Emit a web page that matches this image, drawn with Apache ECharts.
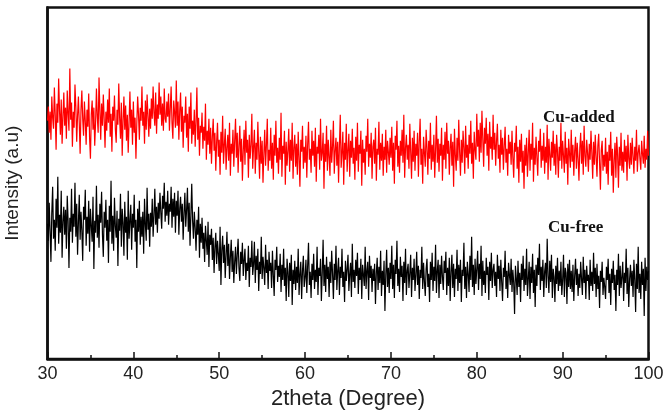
<!DOCTYPE html>
<html>
<head>
<meta charset="utf-8">
<script src="https://cdn.jsdelivr.net/npm/echarts@6/dist/echarts.min.js"></script>
<style>html,body{margin:0;padding:0;background:#fff}#c{width:665px;height:412px}</style>
</head>
<body>
<div id="c"></div>
<script>
// 2theta sampling: starts at 30, one reading every 0.1 degree up to 100
const thetaStart = 30;
const thetaStep = 0.1;
const xTicks = [30, 40, 50, 60, 70, 80, 90, 100];
const seriesNames = ['Cu-added', 'Cu-free'];

// Intensity (a.u.) (one row = one degree)
const cuAdded = [
238,252,226,247,219,262,241,230,271,244,
209,255,236,280,248,224,259,215,242,266,
233,251,220,268,245,228,290,239,256,212,
247,231,274,252,217,243,262,236,205,249,
268,240,223,257,238,214,249,232,265,221,
200,244,258,229,251,213,236,270,242,226,
281,248,219,255,233,264,240,211,247,228,
259,236,270,222,245,207,252,238,263,230,
216,249,234,275,241,220,256,203,238,262,
229,253,218,244,206,236,267,231,249,214,
257,226,241,200,235,262,244,219,251,238,
272,233,247,215,258,229,264,243,222,250,
230,260,240,272,246,233,266,225,254,240,
276,244,262,233,255,228,270,240,236,257,
242,265,228,250,272,236,220,258,246,231,
278,233,257,219,248,266,227,252,211,243,
236,262,221,245,207,252,230,266,215,238,
224,249,212,237,271,219,241,203,233,226,
246,210,232,218,255,199,228,214,240,205,
231,195,222,240,208,226,188,217,236,202,
219,184,227,206,243,195,214,230,189,211,
224,198,236,183,215,205,229,192,218,240,
201,226,186,213,233,197,220,178,208,229,
194,238,206,219,181,224,200,214,245,190,
212,229,185,216,199,237,207,180,222,195,
218,176,205,229,193,214,240,188,209,198,
231,190,216,179,224,203,238,196,211,185,
221,199,246,182,213,205,228,174,217,193,
208,230,187,219,198,236,180,211,224,192,
215,184,227,201,172,219,207,233,190,212,
196,223,181,214,237,199,210,186,228,203,
218,192,231,177,212,205,224,189,240,198,
206,226,170,215,197,233,188,219,202,183,
229,196,212,238,185,208,221,193,217,176,
213,244,191,206,227,174,216,199,235,187,
209,225,182,218,201,230,195,211,179,222,
198,236,187,214,205,228,173,219,196,210,
184,223,207,240,192,215,201,226,180,212,
219,195,231,178,210,204,237,189,216,198,
225,183,212,199,229,186,218,207,194,221,
201,232,188,216,175,223,209,238,192,213,
186,218,203,229,196,244,181,211,224,199,
214,190,235,207,180,221,197,228,188,215,
203,226,182,217,240,194,210,175,222,206,
192,229,211,184,218,200,236,189,214,197,
224,181,209,243,196,220,187,215,203,231,
178,214,199,227,190,236,205,218,184,211,
225,193,217,172,230,204,188,221,198,239,
207,183,219,196,228,211,185,233,201,214,
190,224,205,238,195,216,180,227,209,199,
245,212,229,197,236,206,248,219,192,231,
215,241,203,225,188,237,210,222,199,244,
209,226,193,218,235,200,214,186,229,204,
221,189,213,232,196,210,183,224,205,217,
194,228,201,181,216,207,233,190,212,176,
219,197,225,186,208,170,214,193,221,182,
206,229,188,215,199,236,177,211,194,222,
201,183,218,207,230,191,213,198,226,185,
212,196,234,179,220,204,188,217,201,228,
193,215,184,224,207,181,212,198,236,190,
218,203,186,227,195,211,174,220,205,191,
229,197,214,183,208,222,190,216,200,178,
211,226,195,218,184,233,203,192,219,206,
187,215,199,228,206,180,217,194,224,202,
182,213,225,196,169,209,218,188,204,192,
221,185,207,174,214,198,227,183,210,166,
199,216,181,222,204,171,212,193,226,188,
207,186,219,197,213,178,224,200,190,216,
194,221,203,185,212,198,229,187,206,214,
200,189,218,205,195,223,191,210,199,228,
203
];

const cuFree = [
135,118,156,128,97,146,172,120,139,108,
160,131,182,115,144,126,168,101,137,152,
124,149,110,163,138,91,141,127,170,116,
145,132,176,122,155,104,136,164,119,147,
128,98,152,139,169,113,142,125,158,107,
150,133,117,162,90,138,126,173,121,144,
111,155,136,167,124,102,147,131,159,118,
139,96,153,127,178,115,143,108,161,133,
121,148,93,140,128,165,112,150,136,103,
157,126,142,99,168,120,137,154,109,145,
131,164,117,139,91,150,127,158,114,142,
122,147,105,160,134,118,171,129,145,112,
146,132,160,122,143,170,134,152,126,156,
140,166,146,130,163,150,176,137,157,143,
168,134,155,147,172,131,160,142,166,126,
158,143,168,124,150,162,137,155,119,146,
166,132,149,171,127,156,113,144,175,138,
120,147,131,108,139,124,152,101,135,116,
141,110,126,97,133,118,104,137,92,124,
114,130,99,121,86,112,126,95,118,105,
88,132,74,109,123,96,114,81,104,127,
93,115,80,102,119,87,108,76,97,112,
85,104,120,91,78,107,95,116,83,99,
110,79,96,88,113,72,101,92,118,84,
95,117,76,103,89,110,68,97,85,122,
80,102,91,74,114,86,99,70,107,88,
96,71,108,84,63,99,89,112,77,93,
82,105,67,94,79,110,73,91,58,100,
87,62,96,78,104,54,89,75,98,69,
92,76,110,64,85,97,60,88,103,72,
81,99,66,93,116,74,87,61,95,79,
105,70,89,77,112,64,91,83,100,58,
86,119,73,94,67,102,80,92,62,97,
76,108,85,60,95,79,113,69,88,101,
64,92,81,110,72,87,57,98,78,90,
104,68,85,96,62,115,77,89,71,99,
83,106,65,91,79,100,60,94,84,73,
112,70,88,97,59,103,81,93,67,90,
78,95,55,86,101,69,92,76,108,63,
88,74,98,48,84,109,72,91,66,96,
80,113,70,94,61,99,85,118,73,90,
67,102,82,93,58,97,76,110,64,88,
95,71,86,104,62,91,79,100,68,84,
107,74,93,60,89,81,112,70,96,77,
63,90,100,72,85,57,97,79,106,68,
92,78,114,66,88,99,61,94,75,103,
82,69,98,86,107,64,91,73,101,58,
87,104,71,95,62,90,80,109,68,94,
76,99,57,89,83,116,70,92,61,97,
85,67,103,79,122,72,94,64,100,75,
90,108,69,95,80,113,63,98,74,88,
66,101,84,92,59,97,78,106,71,89,
95,73,87,62,104,80,93,68,99,77,
58,91,82,108,70,88,61,96,84,74,
100,67,89,76,45,93,81,64,98,72,
86,57,95,79,103,68,90,74,110,63,
80,97,60,92,76,105,66,89,52,94,
73,101,84,115,69,92,78,99,62,87,
96,71,120,83,66,98,77,104,61,90,
82,57,93,75,101,68,88,73,97,64,
79,104,62,91,86,55,95,72,99,70,
88,67,94,58,83,100,74,90,63,85,
71,97,80,64,102,76,89,60,93,78,
84,59,99,73,87,68,106,75,91,62,
95,70,83,51,88,77,97,64,81,72,
60,92,79,100,66,85,54,90,76,98,
69,84,48,89,74,105,63,93,71,82,
97,58,86,76,110,65,91,52,80,94,
73,88,62,99,79,47,95,70,112,66,
85,60,97,74,90,43,101,68,92,79,
88
];

function pairs(vals) {
  return vals.map((v, i) => [+(thetaStart + i * thetaStep).toFixed(1), v]);
}

const chart = echarts.init(document.getElementById('c'), null, {renderer: 'canvas'});
chart.setOption({
  animation: false,
  backgroundColor: '#fff',
  grid: {
    left: 47.5, right: 16.5, top: 7.5, bottom: 53,
    outerBoundsMode: 'none', containLabel: false,
    show: true, borderColor: '#111', borderWidth: 2.5, backgroundColor: 'transparent'
  },
  xAxis: {
    type: 'value',
    min: xTicks[0], max: xTicks[xTicks.length - 1], interval: 10,
    name: '2theta (Degree)', nameLocation: 'middle', nameGap: 29,
    nameTextStyle: {fontFamily: 'Liberation Sans', fontSize: 22, color: '#222'},
    axisLine: {show: true, onZero: false, lineStyle: {color: '#111', width: 2.5}},
    axisTick: {show: true, inside: true, length: 7, lineStyle: {color: '#111', width: 1.5}},
    minorTick: {show: true, splitNumber: 2, length: 4, lineStyle: {color: '#111', width: 1.5}},
    axisLabel: {fontFamily: 'Liberation Sans', fontSize: 18, color: '#222', margin: 6},
    splitLine: {show: false}
  },
  yAxis: {
    type: 'value', min: 0, max: 351,
    name: 'Intensity (a.u)', nameLocation: 'middle', nameGap: 25,
    nameTextStyle: {fontFamily: 'Liberation Sans', fontSize: 19, color: '#222'},
    axisLine: {show: true, lineStyle: {color: '#111', width: 2.5}},
    axisTick: {show: false}, axisLabel: {show: false}, splitLine: {show: false}
  },
  series: [
    {name: seriesNames[0], type: 'line', data: pairs(cuAdded), showSymbol: false,
     lineStyle: {color: '#ff0000', width: 1.2}, itemStyle: {color: '#ff0000'}},
    {name: seriesNames[1], type: 'line', data: pairs(cuFree), showSymbol: false,
     lineStyle: {color: '#000', width: 1.2}, itemStyle: {color: '#000'}}
  ],
  graphic: [
    {type: 'text', left: 543, top: 109, style: {text: seriesNames[0], font: 'bold 17px "Liberation Serif"', fill: '#111'}},
    {type: 'text', left: 548, top: 219, style: {text: seriesNames[1], font: 'bold 17px "Liberation Serif"', fill: '#111'}}
  ]
});
</script>
</body>
</html>
